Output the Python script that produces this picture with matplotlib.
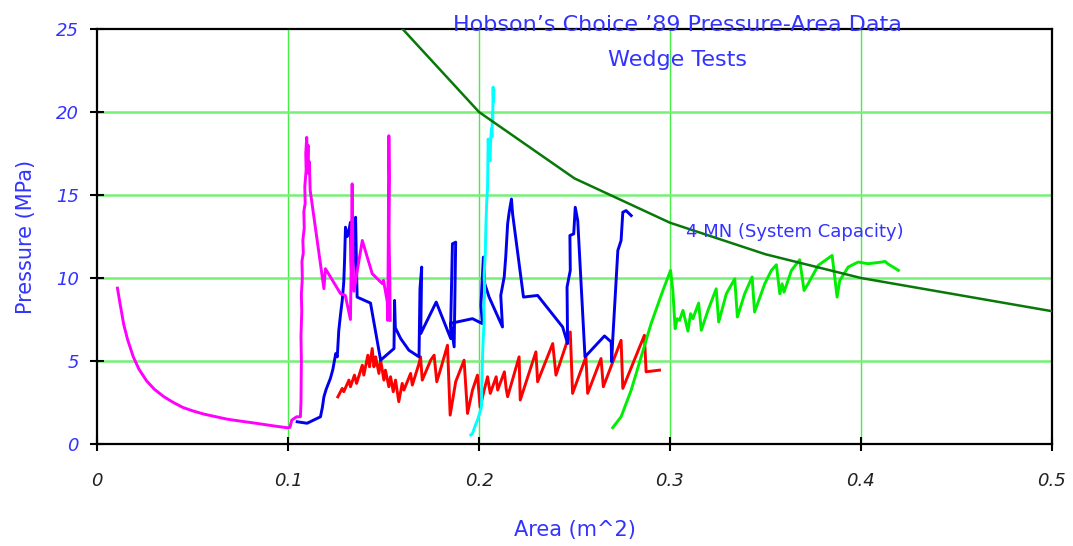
import matplotlib
matplotlib.use("Agg")
import matplotlib.pyplot as plt

plt.rcParams['font.family'] = ['DejaVu Sans']

# ---------------- data ----------------
title = "Hobson\u2019s Choice \u201989 Pressure-Area Data"
subtitle = "Wedge Tests"
capacity_label = "4 MN (System Capacity)"
xlabel = "Area (m^2)"
ylabel = "Pressure (MPa)"
xticks = [0, 0.1, 0.2, 0.3, 0.4, 0.5]
xtick_labels = ["0", "0.1", "0.2", "0.3", "0.4", "0.5"]
yticks = [0, 5, 10, 15, 20, 25]
ytick_labels = ["0", "5", "10", "15", "20", "25"]

# system capacity curve
cap_x = [0.16, 0.20, 0.25, 0.30, 0.35, 0.40, 0.50]
cap_y = [25.0, 20.0, 16.0, 13.33, 11.43, 10.0, 8.0]

# magenta test
mag_x = [0.0107, 0.012, 0.014, 0.016, 0.019, 0.022, 0.026, 0.030, 0.035, 0.040,
         0.045, 0.050, 0.056, 0.062, 0.068, 0.075, 0.082, 0.089, 0.095, 0.0995,
         0.1010, 0.1020, 0.1045, 0.1065, 0.1068, 0.1070, 0.1068, 0.1072, 0.1070,
         0.1075, 0.1073, 0.1080, 0.1078, 0.1085, 0.1083, 0.1090, 0.1088, 0.1095,
         0.1093, 0.1098, 0.1102, 0.1105, 0.1108, 0.1112, 0.1116, 0.1188, 0.1196,
         0.1275, 0.1300, 0.1327, 0.1330, 0.1336, 0.1340, 0.1345, 0.1389, 0.1441,
         0.1494, 0.1500, 0.1520, 0.1522, 0.1525, 0.1528, 0.1531, 0.1529, 0.1533,
         0.1535]
mag_y = [9.39, 8.5, 7.2, 6.3, 5.25, 4.5, 3.8, 3.3, 2.85, 2.5,
         2.2, 2.0, 1.8, 1.65, 1.5, 1.38, 1.27, 1.15, 1.05, 0.98,
         1.0, 1.44, 1.64, 1.64, 2.5, 5.0, 6.5, 8.0, 9.0,
         10.0, 11.0, 11.5, 12.3, 13.0, 14.0, 14.5, 15.5, 16.5,
         17.5, 18.47, 17.0, 18.0, 16.3, 17.0, 15.3, 9.36, 10.56,
         9.06, 8.95, 7.5, 10.0, 15.67, 11.0, 9.2, 12.26, 10.26,
         9.66, 9.86, 8.55, 7.45, 12.0, 18.57, 16.0, 12.5, 10.0,
         7.45]

# blue test
blue_x = [0.1048, 0.1100, 0.1170, 0.1180, 0.1188, 0.1200, 0.1222, 0.1235, 0.1250,
          0.1258, 0.1266, 0.1275, 0.1284, 0.1292, 0.1296, 0.1301, 0.1310, 0.1319,
          0.1327, 0.1330, 0.1336, 0.1345, 0.1354, 0.1358, 0.1362, 0.1432, 0.1485,
          0.1555, 0.1558, 0.1562, 0.1590, 0.1633, 0.1686, 0.1691, 0.1700, 0.1695,
          0.1776, 0.1852, 0.1852, 0.1861, 0.1878, 0.1870, 0.1852, 0.1966, 0.2018,
          0.2010, 0.2023, 0.2030, 0.2053, 0.2123, 0.2114, 0.2132, 0.2140, 0.2150,
          0.2158, 0.2170, 0.2176, 0.2233, 0.2307, 0.2438, 0.2464, 0.2461, 0.2478,
          0.2476, 0.2496, 0.2504, 0.2517, 0.2555, 0.2657, 0.2692, 0.2695, 0.2700,
          0.2709, 0.2718, 0.2727, 0.2744, 0.2753, 0.2770, 0.2797]
blue_y = [1.34, 1.25, 1.64, 2.2, 2.84, 3.3, 3.95, 4.5, 5.45,
          5.25, 6.85, 7.8, 8.65, 9.75, 11.0, 13.06, 12.5, 12.86,
          13.36, 11.0, 9.45, 11.5, 13.66, 11.0, 8.85, 8.49, 5.05,
          5.75, 8.65, 7.0, 6.35, 5.65, 5.25, 9.36, 10.66, 6.65,
          8.55, 6.35, 7.25, 12.06, 12.16, 5.85, 7.27, 7.55, 7.25,
          8.35, 11.26, 9.66, 8.85, 7.05, 8.95, 10.06, 11.26, 13.26,
          13.96, 14.76, 13.86, 8.85, 8.95, 7.05, 6.05, 9.45, 10.46,
          12.56, 12.66, 14.26, 13.46, 5.25, 6.51, 6.15, 4.95, 6.25,
          8.05, 9.86, 11.66, 12.26, 13.96, 14.06, 13.76]

# red test
red_x = [0.1261, 0.1284, 0.1292, 0.1319, 0.1327, 0.1348, 0.1359, 0.1389, 0.1397,
         0.1418, 0.1427, 0.1441, 0.1450, 0.1459, 0.1476, 0.1485, 0.1502, 0.1510,
         0.1528, 0.1537, 0.1551, 0.1563, 0.1580, 0.1598, 0.1607, 0.1642, 0.1651,
         0.1686, 0.1694, 0.1703, 0.1747, 0.1765, 0.1779, 0.1800, 0.1835, 0.1849,
         0.1878, 0.1922, 0.1940, 0.1966, 0.1992, 0.2006, 0.2027, 0.2045, 0.2059,
         0.2090, 0.2098, 0.2133, 0.2142, 0.2150, 0.2210, 0.2216, 0.2298, 0.2307,
         0.2386, 0.2403, 0.2478, 0.2490, 0.2560, 0.2569, 0.2639, 0.2651, 0.2744,
         0.2753, 0.2866, 0.2875, 0.2945]
red_y = [2.84, 3.35, 3.15, 3.85, 3.45, 4.15, 3.65, 4.75, 4.15,
         5.35, 4.65, 5.75, 4.65, 5.25, 4.25, 5.05, 3.85, 4.45,
         3.45, 4.05, 3.15, 3.85, 2.55, 3.65, 3.25, 4.25, 3.55,
         4.85, 5.25, 3.85, 5.05, 5.35, 3.75, 4.55, 5.95, 1.74,
         3.75, 5.05, 1.84, 3.25, 4.15, 2.2, 3.25, 4.05, 3.05,
         4.05, 3.25, 4.35, 3.35, 2.85, 5.25, 2.65, 5.55, 3.75,
         6.05, 4.15, 6.75, 3.05, 5.25, 3.05, 5.15, 3.45, 6.25,
         3.35, 6.55, 4.35, 4.45]

# cyan test
cyan_x = [0.1957, 0.1966, 0.1980, 0.1992, 0.2005, 0.2013, 0.2015, 0.2018, 0.2022,
          0.2027, 0.2025, 0.2030, 0.2027, 0.2033, 0.2036, 0.2040, 0.2045, 0.2048,
          0.2052, 0.2058, 0.2060, 0.2065, 0.2068, 0.2070, 0.2072, 0.2074, 0.2076,
          0.2078]
cyan_y = [0.55, 0.64, 1.1, 1.44, 1.9, 2.24, 3.5, 5.05, 6.3,
          7.45, 8.3, 9.06, 10.2, 11.46, 13.06, 14.46, 15.46, 18.37,
          17.5, 17.07, 18.0, 19.0, 18.5, 20.0, 19.5, 21.5, 20.6,
          21.3]

# lime test
lime_x = [0.2700, 0.2744, 0.2797, 0.2849, 0.2901, 0.2963, 0.3003, 0.3015, 0.3027,
          0.3038, 0.3050, 0.3068, 0.3094, 0.3108, 0.3120, 0.3150, 0.3164, 0.3199,
          0.3242, 0.3255, 0.3295, 0.3339, 0.3353, 0.3391, 0.3430, 0.3443, 0.3496,
          0.3531, 0.3557, 0.3575, 0.3587, 0.3597, 0.3636, 0.3679, 0.3702, 0.3723,
          0.3776, 0.3849, 0.3875, 0.3889, 0.3933, 0.3985, 0.4038, 0.4108, 0.4126,
          0.4140, 0.4196]
lime_y = [0.98, 1.64, 3.25, 5.25, 7.25, 9.25, 10.46, 9.25, 6.95,
          7.55, 7.45, 8.05, 6.8, 7.85, 7.55, 8.49, 6.85, 8.05,
          9.35, 7.35, 9.05, 9.95, 7.65, 9.05, 10.06, 7.95, 9.65,
          10.46, 10.8, 9.05, 9.65, 9.15, 10.46, 11.1, 9.25, 9.65,
          10.76, 11.36, 8.85, 9.85, 10.66, 10.96, 10.86, 10.96, 11.0,
          10.86, 10.46]

# ---------------- figure ----------------
text_blue = '#3333ff'
fig = plt.figure(figsize=(10.73, 5.46), dpi=100)
ax = fig.add_axes([0.0904, 0.1868, 0.8900, 0.7601])
ax.set_xlim(0, 0.5)
ax.set_ylim(0, 25)

for xv in xticks[1:-1]:
    ax.axvline(xv, color='#44ee44', lw=1.0, zorder=0)
for yv in yticks[1:-1]:
    ax.axhline(yv, color='#77f077', lw=1.8, zorder=0)

lw = 2.1
ax.plot(red_x, red_y, color='#ff0000', lw=lw, zorder=2)
ax.plot(blue_x, blue_y, color='#0000ee', lw=lw, zorder=3)
ax.plot(mag_x, mag_y, color='#ff00ff', lw=lw, zorder=4)
ax.plot(cyan_x, cyan_y, color='#00ffff', lw=lw, zorder=5)
ax.plot(lime_x, lime_y, color='#00ee00', lw=lw, zorder=5)
ax.plot(cap_x, cap_y, color='#087808', lw=1.8, zorder=6)

for s in ax.spines.values():
    s.set_linewidth(1.6)
    s.set_color('black')

ax.set_xticks(xticks)
ax.set_xticklabels(xtick_labels, fontsize=13, style='italic', color='#222222')
ax.set_yticks(yticks)
ax.set_yticklabels(ytick_labels, fontsize=13, style='italic', color=text_blue)
ax.tick_params(axis='both', direction='inout', length=10, width=1.5, color='black')
ax.tick_params(axis='x', pad=15)
ax.tick_params(axis='y', pad=8)

ax.set_xlabel(xlabel, fontsize=15, color=text_blue, labelpad=22)
ax.set_ylabel(ylabel, fontsize=15, color=text_blue, labelpad=14)

ax.text(0.3038, 24.88, title, fontsize=16, color=text_blue, ha='center',
        va='baseline', zorder=10)
ax.text(0.3038, 22.75, subtitle, fontsize=16, color=text_blue, ha='center',
        va='baseline', zorder=10)
ax.text(0.3085, 12.44, capacity_label, fontsize=13, color=text_blue, ha='left',
        va='baseline', zorder=10)

fig.savefig('out.png', dpi=100)
